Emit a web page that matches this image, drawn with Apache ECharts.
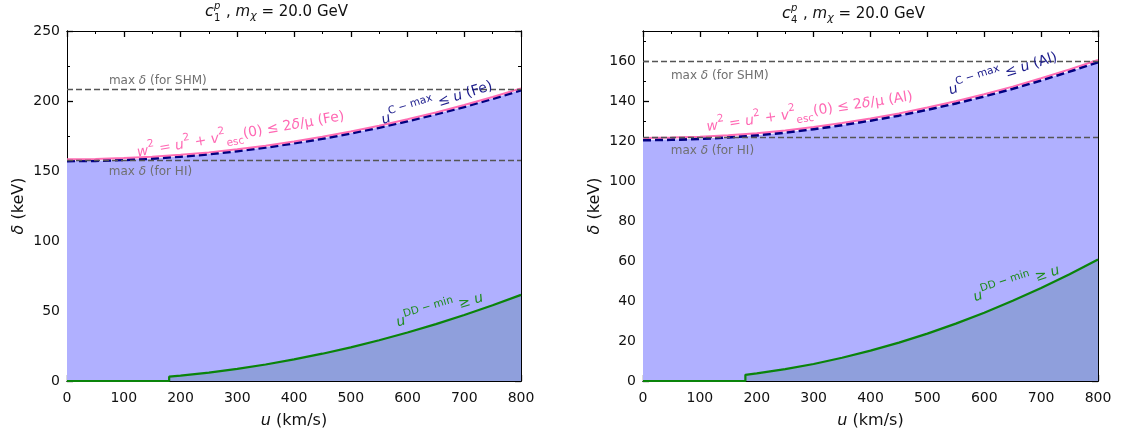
<!DOCTYPE html>
<html>
<head>
<meta charset="utf-8">
<script src="https://cdn.jsdelivr.net/npm/echarts@6/dist/echarts.min.js"></script>
<style>
  html, body { margin: 0; padding: 0; background: #fff; }
  #main { width: 1121px; height: 439px; }
</style>
</head>
<body>
<div id="main"></div>
<script>
// Recoil speed grid (km/s)
const uGrid = [0, 50, 100, 150, 200, 250, 300, 350, 400, 450, 500, 550, 600, 650, 700, 750, 800];

// Fe target (c1p): escape-velocity bound and C-max staircase (keV)
const deltaFeEsc  = [158.4, 158.6, 159.2, 160.2, 161.6, 163.3, 165.5, 168.1, 171.1, 174.4, 178.2, 182.3, 186.9, 191.8, 197.1, 202.9, 209.0];
const deltaFeCmax = [157.2, 157.4, 158.0, 159.0, 160.4, 162.1, 164.3, 166.9, 169.9, 173.2, 177.0, 181.1, 185.7, 190.6, 195.9, 201.7, 207.8];

// Al target (c4p)
const deltaAlEsc  = [121.5, 121.7, 122.1, 122.9, 123.9, 125.3, 127.0, 129.0, 131.3, 133.8, 136.7, 139.9, 143.4, 147.2, 151.4, 155.8, 160.5];
const deltaAlCmax = [120.5, 120.7, 121.1, 121.9, 122.9, 124.3, 126.0, 128.0, 130.3, 132.8, 135.7, 138.9, 142.4, 146.2, 150.4, 154.8, 159.5];

// DD-min boundary (zero below the threshold, then rising)
const uDD    = [0, 180, 180, 200, 250, 300, 350, 400, 450, 500, 550, 600, 650, 700, 750, 800];
const ddFe   = [0, 0, 3.1, 3.8, 6.0, 8.6, 11.8, 15.4, 19.5, 24.0, 29.1, 34.6, 40.6, 47.1, 54.1, 61.5];
const ddAl   = [0, 0, 3.1, 3.8, 5.9, 8.5, 11.6, 15.2, 19.2, 23.7, 28.7, 34.1, 40.1, 46.5, 53.4, 60.7];

// Maximum delta reference levels (keV)
const maxSHM = [208.5, 160.0];
const maxHI  = [158.0, 121.8];

// Tick settings
const xTicks = { min: 0, max: 800, major: 100, minor: 50 };
const yTicksFe = { min: 0, max: 250, major: 50, minor: 25 };
const yTicksAl = { min: 0, max: 175, major: 20, minor: 10 };

const targets = ['Fe', 'Al'];
const couplings = ['1', '4'];

const FONT = 'DejaVu Sans';
const pair = (xs, ys) => xs.map((x, i) => [x, ys[i]]);

function axisBase(extra) {
  return Object.assign({
    type: 'value',
    splitLine: { show: false },
    minorSplitLine: { show: false },
    axisLine: { show: true, onZero: false, lineStyle: { color: '#000', width: 1 } },
    axisTick: { show: true, inside: true, length: 6, lineStyle: { color: '#000', width: 1.3 } },
    minorTick: { show: false },
    axisLabel: { show: false }
  }, extra);
}

const minorTickStyle = { show: true, inside: true, length: 3, lineStyle: { color: '#000', width: 1 } };

function xAxesFor(g) {
  const lbl = { show: true, color: '#111', fontSize: 14, fontFamily: FONT, margin: 10 };
  const name = {
    name: '{i|u} (km/s)', nameLocation: 'middle', nameGap: 32,
    nameTextStyle: { color: '#111', fontSize: 16, fontFamily: FONT,
      rich: { i: { fontStyle: 'italic', fontSize: 16, fontFamily: FONT, color: '#111' } } }
  };
  const common = { gridIndex: g, min: xTicks.min, max: xTicks.max };
  return [
    axisBase(Object.assign({}, common, name, { position: 'bottom', interval: xTicks.major, axisLabel: lbl })),
    axisBase(Object.assign({}, common, { position: 'bottom', interval: xTicks.minor, axisTick: minorTickStyle })),
    axisBase(Object.assign({}, common, { position: 'top', interval: xTicks.major })),
    axisBase(Object.assign({}, common, { position: 'top', interval: xTicks.minor, axisTick: minorTickStyle }))
  ];
}

function yAxesFor(g, t) {
  const lbl = { show: true, color: '#111', fontSize: 14, fontFamily: FONT, margin: 7,
    showMaxLabel: t.max % t.major === 0 };
  const name = {
    name: '{i|δ} (keV)', nameLocation: 'middle', nameGap: 40,
    nameTextStyle: { color: '#111', fontSize: 16, fontFamily: FONT,
      rich: { i: { fontStyle: 'italic', fontSize: 16, fontFamily: FONT, color: '#111' } } }
  };
  const common = { gridIndex: g, min: t.min, max: t.max };
  return [
    axisBase(Object.assign({}, common, name, { position: 'left', interval: t.major, axisLabel: lbl })),
    axisBase(Object.assign({}, common, { position: 'left', interval: t.minor, axisTick: minorTickStyle })),
    axisBase(Object.assign({}, common, { position: 'right', interval: t.major })),
    axisBase(Object.assign({}, common, { position: 'right', interval: t.minor, axisTick: minorTickStyle }))
  ];
}

const grids = [
  { left: 67, top: 31, width: 454, height: 350 },
  { left: 643, top: 31, width: 455, height: 350 }
];

const labelRich = {
  n:   { fontFamily: FONT, fontSize: 14, lineHeight: 24 },
  i:   { fontFamily: FONT, fontSize: 14, fontStyle: 'italic', lineHeight: 24 },
  sup: { fontFamily: FONT, fontSize: 10.5, verticalAlign: 'top', lineHeight: 15 },
  sub: { fontFamily: FONT, fontSize: 10.5, verticalAlign: 'bottom', lineHeight: 13 }
};

function textMark(coord, text, color, rotate) {
  return {
    coord: coord,
    symbol: 'circle', symbolSize: 0,
    label: {
      show: true, position: 'inside', formatter: text, color: color, rotate: rotate,
      fontFamily: FONT, fontSize: 14,
      rich: Object.fromEntries(Object.entries(labelRich).map(([k, v]) => [k, Object.assign({ color: color }, v)]))
    }
  };
}

function noteMark(coord, text) {
  const c = '#707070';
  return {
    coord: coord,
    symbol: 'circle', symbolSize: 0,
    label: {
      show: true, position: 'inside', formatter: text, color: c,
      fontFamily: FONT, fontSize: 12,
      rich: { i: { fontFamily: FONT, fontSize: 12, fontStyle: 'italic', color: c } }
    }
  };
}

// label placement per panel [u, delta, rotation]
const labelPos = [
  { esc: [306, 176, 10], cmax: [652, 198.5, 17.5], dd: [657, 50.5, 16.5], shm: [160, 214.5], hi: [147, 149.5] },
  { esc: [293, 134.5, 8.5], cmax: [633, 153.5, 17.5], dd: [657, 48.5, 18], shm: [135, 152.5], hi: [122, 115] }
];

const escData = [deltaFeEsc, deltaAlEsc];
const cmaxData = [deltaFeCmax, deltaAlCmax];
const ddData = [ddFe, ddAl];

const series = [];
[0, 1].forEach(g => {
  const xi = g * 4, yi = g * 4;
  const tgt = targets[g];
  const lp = labelPos[g];
  // region allowed by the C-max staircase
  series.push({
    type: 'line', xAxisIndex: xi, yAxisIndex: yi, z: 2,
    data: pair(uGrid, cmaxData[g]), symbol: 'none', silent: true,
    lineStyle: { color: '#000080', width: 3, type: [8, 4] },
    areaStyle: { color: '#b0b0ff', opacity: 1 }
  });
  // DD-min boundary with its shaded region
  series.push({
    type: 'line', xAxisIndex: xi, yAxisIndex: yi, z: 3,
    data: pair(uDD, ddData[g]), symbol: 'none', silent: true,
    lineStyle: { color: '#0a840a', width: 2.2 },
    areaStyle: { color: '#8f9fdc', opacity: 1 },
    markLine: {
      silent: true, symbol: 'none', label: { show: false },
      lineStyle: { color: '#555', width: 1.3, type: [6, 3] },
      data: [{ yAxis: maxSHM[g] }, { yAxis: maxHI[g] }]
    }
  });
  // escape-velocity bound and all annotations
  series.push({
    type: 'line', xAxisIndex: xi, yAxisIndex: yi, z: 4,
    data: pair(uGrid, escData[g]), symbol: 'none', silent: true,
    lineStyle: { color: '#ff6eb4', width: 2 },
    markPoint: {
      silent: true,
      data: [
        textMark([lp.esc[0], lp.esc[1]],
          '{i|w}{sup|2}{n| = }{i|u}{sup|2}{n| + }{i|v}{sup|2}{sub|esc}{n|(0) ≤ 2}{i|δ}{n|/μ (' + tgt + ')}',
          '#ff69b4', lp.esc[2]),
        textMark([lp.cmax[0], lp.cmax[1]],
          '{i|u}{sup|C − max}{n| ≤ }{i|u}{n| (' + tgt + ')}',
          '#1c1c8c', lp.cmax[2]),
        textMark([lp.dd[0], lp.dd[1]],
          '{i|u}{sup|DD − min}{n| ≥ }{i|u}',
          '#1e8c1e', lp.dd[2]),
        noteMark([lp.shm[0], lp.shm[1]], 'max {i|δ} (for SHM)'),
        noteMark([lp.hi[0], lp.hi[1]], 'max {i|δ} (for HI)')
      ]
    }
  });
});

// Panel titles: c_k^p , m_chi = 20.0 GeV
function titleGraphics(x0, yc, k) {
  return [
    { type: 'text', x: x0, y: yc, style: { text: 'c', font: 'italic 16px "DejaVu Sans"', fill: '#111', verticalAlign: 'middle' } },
    { type: 'text', x: x0 + 9, y: yc - 6, style: { text: 'p', font: 'italic 10px "DejaVu Sans"', fill: '#111', verticalAlign: 'middle' } },
    { type: 'text', x: x0 + 9, y: yc + 6, style: { text: k, font: '10px "DejaVu Sans"', fill: '#111', verticalAlign: 'middle' } },
    { type: 'text', x: x0 + 21, y: yc, style: {
      text: '{n|, }{i|m}{s|χ}{n| = 20.0 GeV}', verticalAlign: 'middle', fill: '#111',
      rich: {
        n: { fontFamily: FONT, fontSize: 15, lineHeight: 20, fill: '#111' },
        i: { fontFamily: FONT, fontSize: 15, fontStyle: 'italic', lineHeight: 20, fill: '#111' },
        s: { fontFamily: FONT, fontSize: 11, fontStyle: 'italic', verticalAlign: 'bottom', lineHeight: 12, fill: '#111' }
      } } }
  ];
}

const option = {
  backgroundColor: '#fff',
  animation: false,
  grid: grids,
  xAxis: [].concat(xAxesFor(0), xAxesFor(1)),
  yAxis: [].concat(yAxesFor(0, yTicksFe), yAxesFor(1, yTicksAl)),
  series: series,
  graphic: [].concat(titleGraphics(205, 12, couplings[0]), titleGraphics(782, 14, couplings[1]))
};

const chart = echarts.init(document.getElementById('main'), null, { renderer: 'canvas' });
chart.setOption(option);
</script>
</body>
</html>
